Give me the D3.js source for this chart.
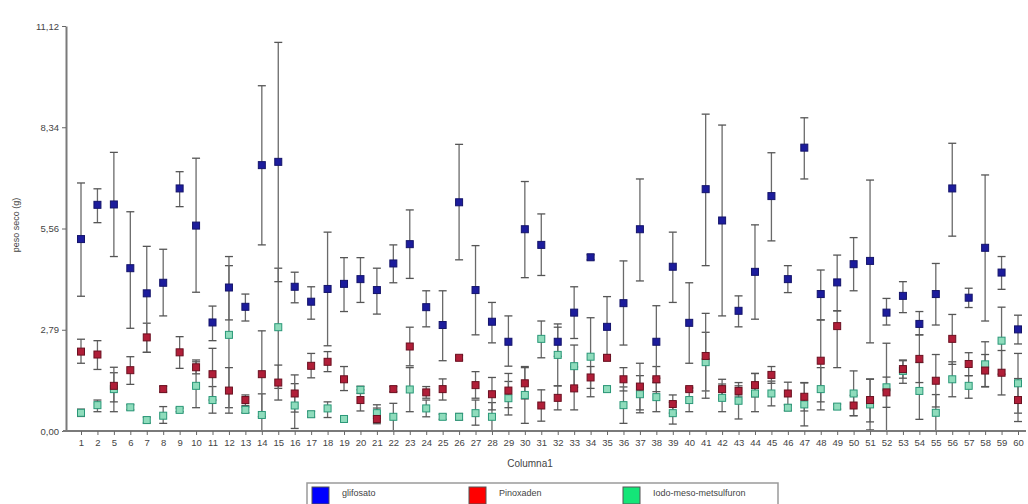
<!DOCTYPE html>
<html>
<head>
<meta charset="utf-8">
<script src="https://cdn.jsdelivr.net/npm/d3@7"></script>
<style>
  body { margin: 0; background: #fff; }
  svg { display: block; font-family: "Liberation Sans", Arial, sans-serif; }
</style>
</head>
<body>
<div class="chart"></div>
<script>
const categories = ['1','2','5','6','7','8','9','10','11','12','13','14','15','16','17','18','19','20','21','22',
  '23','24','25','26','27','28','29','30','31','32','33','34','35','36','37','38','39','40','41','42',
  '43','44','45','46','47','48','49','50','51','52','53','54','55','56','57','58','59','60'];

const yTickValues = [0, 2.78, 5.56, 8.34, 11.12];
const yTickLabels = ['0,00', '2,79', '5,56', '8,34', '11,12'];

// glifosato
const glifMean = [5.27,6.21,6.22,4.47,3.78,4.07,6.66,5.64,2.98,3.94,3.41,7.30,7.39,3.96,3.55,3.90,4.04,4.17,3.87,4.60,
  5.13,3.40,2.91,6.28,3.87,3.00,2.45,5.54,5.11,2.45,3.25,4.77,2.86,3.51,5.54,2.45,4.51,2.97,6.64,5.78,
  3.30,4.37,6.45,4.17,7.78,3.76,4.08,4.58,4.67,3.25,3.71,2.94,3.76,6.66,3.66,5.03,4.35,2.79];
const glifLow = [3.70,5.72,4.79,2.82,2.16,3.16,6.16,3.81,2.48,3.05,3.02,5.11,4.10,3.52,3.07,2.34,3.28,3.53,3.21,4.07,
  4.19,2.86,1.93,4.70,2.64,2.42,1.78,4.21,4.27,2.05,2.54,4.70,2.04,2.36,4.12,1.45,3.53,1.86,4.54,3.16,
  2.86,3.07,5.22,3.80,6.92,3.05,3.30,3.85,2.42,2.91,3.25,2.64,2.91,5.35,3.39,3.02,3.89,2.39];
const glifHigh = [6.81,6.65,7.65,6.02,5.07,4.99,7.12,7.49,3.43,4.79,3.76,9.48,10.67,4.36,3.96,5.46,4.76,4.76,4.47,5.11,
  6.07,3.85,3.85,7.87,5.09,3.53,3.16,6.85,5.96,2.85,3.96,4.84,3.69,4.67,6.92,3.44,5.46,4.07,8.70,8.40,
  3.71,5.66,7.64,4.54,8.60,4.42,4.83,5.31,6.89,3.64,4.10,3.28,4.60,7.90,3.92,7.03,4.79,3.18];

// Pinoxaden
const pinoMean = [2.18,2.10,1.24,1.67,2.57,1.15,2.16,1.75,1.56,1.11,0.85,1.56,1.33,1.03,1.79,1.90,1.42,0.85,0.33,1.15,
  2.32,1.06,1.15,2.01,1.26,1.01,1.11,1.31,0.70,0.91,1.17,1.47,2.01,1.42,1.22,1.42,0.74,1.15,2.06,1.15,
  1.10,1.26,1.54,1.03,0.94,1.93,2.88,0.70,0.85,1.06,1.70,1.98,1.38,2.53,1.84,1.66,1.60,0.85];
const pinoLow = [1.86,1.69,0.80,1.28,2.16,1.07,1.72,1.57,0.85,0.49,0.70,0.39,0.85,0.52,1.46,1.63,1.11,0.55,0.20,1.08,
  1.79,0.90,0.85,1.95,0.90,0.58,0.64,0.88,0.27,0.58,0.58,1.17,1.93,1.10,0.58,1.08,0.49,1.10,0.90,0.88,
  0.96,0.94,1.31,0.72,0.55,0.80,1.74,0.42,0.25,0.65,1.45,1.33,0.66,1.83,1.52,1.22,0.99,0.26];
const pinoHigh = [2.52,2.48,1.75,2.04,2.96,1.23,2.59,1.90,2.27,1.74,0.99,2.75,1.81,1.54,2.13,2.18,1.77,1.13,0.72,1.22,
  2.85,1.22,1.43,2.07,1.63,1.47,1.58,1.74,1.13,1.24,1.76,1.77,2.09,1.74,1.86,1.77,0.99,1.20,3.23,1.42,
  1.24,1.58,1.77,1.34,1.33,3.05,3.30,0.98,1.42,1.48,1.95,2.64,2.10,3.20,2.15,2.10,2.21,1.44];

// Iodo-meso-metsulfuron
const iodoMean = [0.50,0.71,1.15,0.65,0.30,0.42,0.58,1.24,0.85,2.64,0.58,0.44,2.85,0.70,0.46,0.62,0.33,1.13,0.49,0.39,
  1.14,0.62,0.39,0.39,0.49,0.39,0.90,0.99,2.53,2.09,1.78,2.04,1.15,0.71,1.01,0.93,0.49,0.85,1.89,0.91,
  0.83,1.03,1.03,0.64,0.73,1.15,0.67,1.03,0.73,1.20,1.65,1.10,0.50,1.42,1.24,1.83,2.48,1.31];
const iodoLow = [0.40,0.53,0.53,0.58,0.22,0.21,0.53,0.64,0.49,0.64,0.50,0.00,1.17,0.07,0.38,0.37,0.28,1.03,0.35,0.00,
  0.53,0.39,0.32,0.30,0.16,0.00,0.44,0.21,2.01,1.24,1.20,0.94,1.07,0.21,0.50,0.53,0.19,0.53,1.10,0.53,
  0.33,0.53,0.69,0.56,0.14,0.58,0.60,0.42,0.03,0.00,1.31,0.32,0.00,0.94,0.90,1.21,1.56,0.49];
const iodoHigh = [0.60,0.85,1.60,0.72,0.38,0.67,0.63,1.95,1.22,4.54,0.66,1.02,4.47,1.30,0.54,0.80,0.38,1.23,0.63,0.76,
  1.74,0.85,0.46,0.48,0.85,0.78,1.36,1.77,3.02,2.94,2.36,3.11,1.23,1.21,1.52,1.33,0.79,1.17,2.71,1.29,
  1.33,1.58,1.37,0.72,1.32,1.74,0.74,1.65,1.43,2.41,1.93,1.88,1.00,1.90,1.52,2.45,3.40,2.13];

const seriesNames = ['glifosato', 'Pinoxaden', 'Iodo-meso-metsulfuron'];
const legendColors = ['#0000ff', '#ff0000', '#14e678'];

const width = 1028, height = 504;

const svg = d3.select('.chart').append('svg')
    .attr('width', width).attr('height', height);

const x = d3.scalePoint().domain(categories).range([81, 1018]);
const y = d3.scaleLinear().domain([0, 11.12]).range([431, 26]);

const toRows = (mean, lo, hi) => categories.map((c, i) => ({c: c, m: mean[i], lo: lo[i], hi: hi[i]}));

const series = [
  {rows: toRows(iodoMean, iodoLow, iodoHigh), fill: '#8fdcbc', stroke: '#2a9878'},
  {rows: toRows(pinoMean, pinoLow, pinoHigh), fill: '#b01e38', stroke: '#6a1020'},
  {rows: toRows(glifMean, glifLow, glifHigh), fill: '#1c1c9c', stroke: '#14146a'}
];

// error bars first, markers on top
series.forEach(s => {
  const g = svg.append('g');
  g.selectAll('line.bar').data(s.rows).enter().append('line')
    .attr('x1', d => x(d.c)).attr('x2', d => x(d.c))
    .attr('y1', d => y(d.lo)).attr('y2', d => y(d.hi))
    .attr('stroke', '#6a6a6a').attr('stroke-width', 1.3);
  g.selectAll('line.top').data(s.rows).enter().append('line')
    .attr('x1', d => x(d.c) - 4).attr('x2', d => x(d.c) + 4)
    .attr('y1', d => y(d.hi)).attr('y2', d => y(d.hi))
    .attr('stroke', '#555').attr('stroke-width', 1.3);
  g.selectAll('line.bot').data(s.rows).enter().append('line')
    .attr('x1', d => x(d.c) - 4).attr('x2', d => x(d.c) + 4)
    .attr('y1', d => y(d.lo)).attr('y2', d => y(d.lo))
    .attr('stroke', '#555').attr('stroke-width', 1.3);
});

series.forEach(s => {
  svg.append('g').selectAll('rect').data(s.rows).enter().append('rect')
    .attr('x', d => x(d.c) - 3.5).attr('y', d => y(d.m) - 3.5)
    .attr('width', 7).attr('height', 7)
    .attr('fill', s.fill).attr('stroke', s.stroke).attr('stroke-width', 1);
});

// axes
const yAxis = svg.append('g').attr('transform', 'translate(66,0)')
  .call(d3.axisLeft(y).tickValues(yTickValues)
    .tickFormat((d, i) => yTickLabels[i]).tickSize(4).tickSizeOuter(0).tickPadding(3));
const xAxis = svg.append('g').attr('transform', 'translate(0,431)')
  .call(d3.axisBottom(x).tickSize(4).tickSizeOuter(0).tickPadding(4));
xAxis.select('.domain').attr('d', 'M63,0H1026');

[yAxis, xAxis].forEach(a => {
  a.select('.domain').attr('stroke', '#7a7a7a').attr('stroke-width', 2);
  a.selectAll('.tick line').attr('stroke', '#666');
  a.selectAll('.tick text').attr('fill', '#444').attr('font-size', 9.5)
    .attr('font-family', '"Liberation Sans", Arial, sans-serif');
});

svg.append('text')
  .attr('x', 530).attr('y', 467).attr('text-anchor', 'middle')
  .attr('font-size', 10).attr('fill', '#444').text('Columna1');

svg.append('text')
  .attr('transform', 'translate(19,225) rotate(-90)')
  .attr('text-anchor', 'middle')
  .attr('font-size', 9).attr('fill', '#444').text('peso seco (g)');

// legend
const legend = svg.append('g');
legend.append('rect').attr('x', 307).attr('y', 483).attr('width', 471).attr('height', 30)
  .attr('fill', 'none').attr('stroke', '#9a9a9a').attr('stroke-width', 1.5);
const legendX = [312, 469, 623];
seriesNames.forEach((name, i) => {
  legend.append('rect').attr('x', legendX[i]).attr('y', 487).attr('width', 17).attr('height', 17)
    .attr('fill', legendColors[i]).attr('stroke', '#555');
  legend.append('text').attr('x', legendX[i] + 30).attr('y', 496)
    .attr('font-size', 9).attr('fill', '#444').text(name);
});
</script>
</body>
</html>
